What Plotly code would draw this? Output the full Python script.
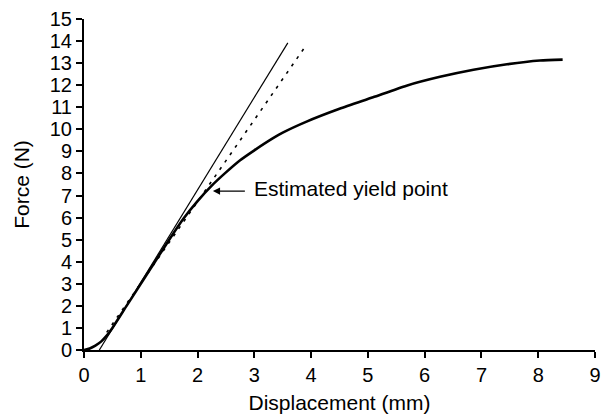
import plotly.graph_objects as go

# Measured load-displacement curve
disp = [0, 0.1, 0.2, 0.3, 0.4, 0.5, 0.75, 1.0, 1.25, 1.5, 1.75, 2.0, 2.25, 2.5, 2.75,
        3.0, 3.33, 3.5, 3.92, 4.5, 5.09, 5.68, 6.27, 6.86, 7.45, 8.03, 8.43]
force = [0, 0.07, 0.2, 0.38, 0.65, 1.0, 2.0, 3.0, 4.0, 5.0, 5.95, 6.75, 7.45, 8.05, 8.6,
         9.05, 9.6, 9.85, 10.35, 10.93, 11.45, 11.98, 12.38, 12.7, 12.95, 13.12, 13.16]

# Linear (tangent) fit line
tangent_x = [0.27, 3.59]
tangent_y = [0.0, 13.92]

# Offset line
offset_x = [0.4, 3.91]
offset_y = [0.8, 13.8]

# Yield point annotation
yield_x = 2.27
yield_y = 7.2
yield_label = "Estimated yield point"

x_ticks = list(range(0, 10))
y_ticks = list(range(0, 16))

font_family = "Liberation Sans, Arial, sans-serif"

fig = go.Figure()
fig.add_trace(go.Scatter(x=tangent_x, y=tangent_y, mode="lines",
                         line=dict(color="black", width=1.2), showlegend=False))
fig.add_trace(go.Scatter(x=offset_x, y=offset_y, mode="lines",
                         line=dict(color="black", width=1.6, dash="3px,6px"), showlegend=False))
fig.add_trace(go.Scatter(x=disp, y=force, mode="lines",
                         line=dict(color="black", width=2.6, shape="spline", smoothing=0.6),
                         showlegend=False))

fig.add_annotation(x=yield_x, y=yield_y, ax=2.86, ay=yield_y, axref="x", ayref="y",
                   xref="x", yref="y", text="", showarrow=True,
                   arrowhead=2, arrowsize=1.1, arrowwidth=1.3, arrowcolor="black")
fig.add_annotation(x=2.96, y=yield_y + 0.1, xref="x", yref="y", text=yield_label,
                   showarrow=False, xanchor="left", yanchor="middle",
                   font=dict(size=21, color="black", family=font_family))

fig.update_layout(
    width=605, height=414,
    margin=dict(l=84, r=10, t=19, b=64),
    paper_bgcolor="white", plot_bgcolor="white",
    font=dict(family=font_family, size=20, color="black"),
)
fig.update_xaxes(range=[0, 9], tickvals=x_ticks, ticks="outside", ticklen=6,
                 tickwidth=1.5, tickcolor="black", showline=True, linecolor="black",
                 linewidth=2, showgrid=False, zeroline=False, automargin=False,
                 title=dict(text="Displacement (mm)", standoff=10, font=dict(size=21)),
                 tickfont=dict(size=20))
fig.update_yaxes(range=[0, 15], tickvals=y_ticks, ticks="outside", ticklen=6,
                 tickwidth=1.5, tickcolor="black", showline=True, linecolor="black",
                 linewidth=2, showgrid=False, zeroline=False, automargin=False,
                 title=dict(text="Force (N)", standoff=14, font=dict(size=21)),
                 tickfont=dict(size=20))

fig.write_html(
    "out.html",
    config={"displayModeBar": False},
    post_script="document.body.style.margin='0px';document.documentElement.style.overflow='hidden';",
)
